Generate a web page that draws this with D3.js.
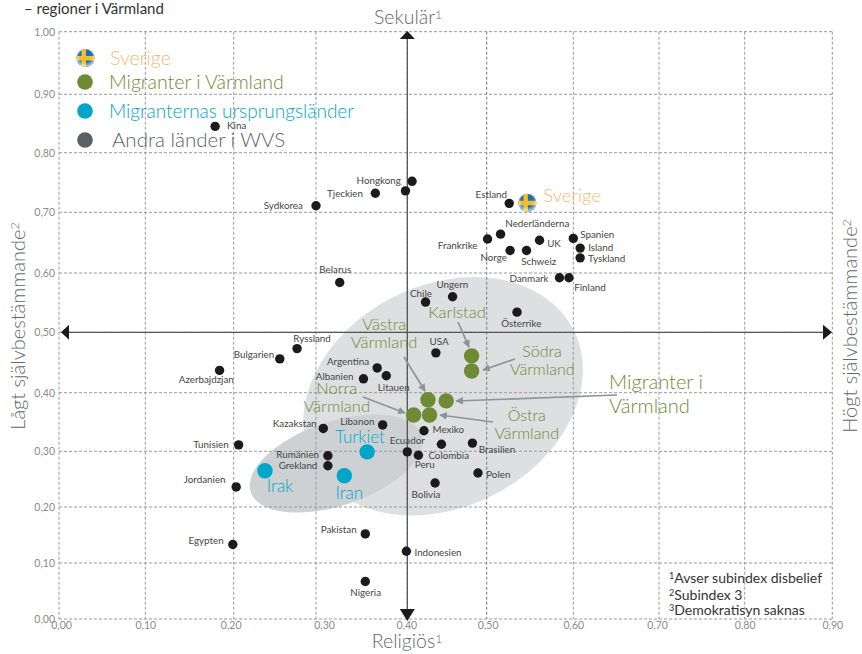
<!DOCTYPE html>
<html>
<head>
<meta charset="utf-8">
<script src="https://cdnjs.cloudflare.com/ajax/libs/d3/7.8.5/d3.min.js"></script>
<style>
body { margin: 0; background: #fff; }
svg { display: block; font-family: Lato, sans-serif; }
</style>
</head>
<body>
<svg width="862" height="654"></svg>
<script>
// grid values
var xTicks = [0, 0.1, 0.2, 0.3, 0.4, 0.5, 0.6, 0.7, 0.8, 0.9];
var yTicks = [0, 0.1, 0.2, 0.3, 0.4, 0.5, 0.6, 0.7, 0.8, 0.9, 1];

// andra länder
var countries = ['Kina', 'Hongkong', '', 'Tjeckien', 'Sydkorea', 'Belarus', 'Chile', 'Estland', 'Nederländerna', 'Frankrike', 'Norge', 'Schweiz', 'UK', 'Spanien', 'Island', 'Tyskland', 'Danmark', 'Finland', 'Ungern', 'Österrike', 'Ryssland', 'Bulgarien', 'Azerbajdzjan', 'Argentina', 'Litauen', 'Albanien', 'Kazakstan', 'Libanon', 'Tunisien', 'Rumänien', 'Grekland', 'Jordanien', 'Ecuador', 'Peru', 'Pakistan', 'Egypten', 'Indonesien', 'Nigeria', 'USA', 'Mexiko', 'Colombia', 'Brasilien', 'Polen', 'Bolivia'];
var religious = [0.179, 0.406, 0.398, 0.365, 0.300, 0.326, 0.423, 0.526, 0.516, 0.501, 0.527, 0.546, 0.561, 0.600, 0.608, 0.608, 0.584, 0.595, 0.457, 0.535, 0.277, 0.256, 0.184, 0.367, 0.377, 0.352, 0.308, 0.373, 0.206, 0.313, 0.313, 0.203, 0.400, 0.414, 0.354, 0.199, 0.399, 0.354, 0.436, 0.421, 0.443, 0.482, 0.489, 0.435];
var selfExpr = [0.845, 0.752, 0.736, 0.732, 0.711, 0.584, 0.551, 0.715, 0.664, 0.656, 0.637, 0.637, 0.654, 0.657, 0.641, 0.625, 0.592, 0.592, 0.560, 0.534, 0.473, 0.456, 0.437, 0.441, 0.428, 0.423, 0.339, 0.345, 0.311, 0.292, 0.274, 0.236, 0.299, 0.293, 0.152, 0.133, 0.121, 0.067, 0.466, 0.335, 0.312, 0.314, 0.261, 0.243];

// migranter i Värmland
var migrantNames = ['Karlstad', 'Södra Värmland', 'Migranter i Värmland', 'Västra Värmland', 'Norra Värmland', 'Östra Värmland'];
var migrantX = [0.481, 0.481, 0.449, 0.426, 0.408, 0.428];
var migrantY = [0.461, 0.436, 0.386, 0.388, 0.362, 0.362];

// ursprungsländer
var originNames = ['Irak', 'Iran', 'Turkiet'];
var originX = [0.238, 0.331, 0.356];
var originY = [0.265, 0.256, 0.299];

var swedenX = 0.547, swedenY = 0.716;

// the printed grid is not evenly spaced, so the scales are piecewise
var xScale = d3.scaleLinear().domain(xTicks)
    .range([59, 145.3, 233.7, 316, 407.3, 486.7, 573.3, 659, 744.7, 832.3]);
var yScale = d3.scaleLinear().domain(yTicks)
    .range([619, 563, 507, 451.3, 392.7, 332.3, 273, 212.3, 152.7, 94.3, 31.7]);

var svg = d3.select('svg');
var defs = svg.append('defs');
var num = d3.format('.2f');
var comma = d => num(d).replace('.', ',');

var green = '#6f8a35', blue = '#00a5c9', orange = '#f1b977', grey = '#5b6064', text = '#454545';

// ellipses behind the points
var ellipses = [
    {cx: 0.445, cy: 0.394, rx: 146.5, ry: 111, rot: -27, fill: '#dddfe1'},
    {cx: 0.322, cy: 0.278, rx: 90, ry: 42, rot: -18.5, fill: '#cdd1d4'}
];
svg.selectAll('ellipse.area').data(ellipses).enter().append('ellipse')
    .attr('class', 'area')
    .attr('rx', d => d.rx).attr('ry', d => d.ry)
    .attr('transform', d => 'translate(' + [xScale(d.cx), yScale(d.cy)] + ') rotate(' + d.rot + ')')
    .attr('fill', d => d.fill);

// grid
svg.append('g').selectAll('line').data(xTicks).enter().append('line')
    .attr('x1', d => xScale(d)).attr('x2', d => xScale(d))
    .attr('y1', yScale(1)).attr('y2', yScale(0))
    .attr('stroke', d => d === 0.5 ? '#777' : '#999')
    .attr('stroke-dasharray', '3 2');
svg.append('g').selectAll('line').data(yTicks).enter().append('line')
    .attr('x1', xScale(0)).attr('x2', xScale(0.9))
    .attr('y1', d => yScale(d)).attr('y2', d => yScale(d))
    .attr('stroke', '#999')
    .attr('stroke-dasharray', '3 2');

// axes, only the labels are used
var xAxis = d3.axisBottom(xScale).tickValues(xTicks).tickFormat(comma).tickSize(0).tickPadding(3);
var yAxis = d3.axisLeft(yScale).tickValues(yTicks).tickFormat(comma).tickSize(0).tickPadding(4);
var xg = svg.append('g').attr('transform', 'translate(0,' + yScale(0) + ')').call(xAxis);
var yg = svg.append('g').attr('transform', 'translate(' + xScale(0) + ',0)').call(yAxis);
xg.select('.domain').remove();
yg.select('.domain').remove();
svg.selectAll('.tick text').attr('fill', '#8a8a8a').style('font-size', '10.5px').style('font-family', 'Lato, sans-serif');
var xNudge = {0: 2, 0.2: -3, 0.3: 8, 0.4: -1, 0.5: 1, 0.7: -2};
xg.selectAll('.tick text').attr('dx', d => xNudge[d] || 0);

// crossing axes with arrow heads
var axisColor = '#555';
var cx = xScale(0.4), cy = yScale(0.5);
svg.append('line').attr('x1', cx).attr('x2', cx).attr('y1', 36).attr('y2', 612).attr('stroke', axisColor).attr('stroke-width', 1.3);
svg.append('line').attr('x1', 66).attr('x2', 826).attr('y1', cy).attr('y2', cy).attr('stroke', axisColor).attr('stroke-width', 1.3);
var heads = [
    [cx, 31, cx - 7.5, 39, cx + 7.5, 39],
    [cx, 621, cx - 7.5, 609, cx + 7.5, 609],
    [61, cy, 69, cy - 7.5, 69, cy + 7.5],
    [832, cy, 823, cy - 7.5, 823, cy + 7.5]
];
svg.selectAll('polygon.head').data(heads).enter().append('polygon')
    .attr('class', 'head')
    .attr('points', d => d.join(' '))
    .attr('fill', '#1d1a1b');

// country points
var labelPos = {
    'Kina': [236.7, 126], 'Hongkong': [378.7, 180.3], 'Tjeckien': [345, 193.3], 'Sydkorea': [283.3, 206],
    'Belarus': [335.3, 270], 'Chile': [421, 293.5], 'Estland': [491.3, 194.3], 'Nederländerna': [537.3, 224],
    'Frankrike': [457.7, 245.3], 'Norge': [493.7, 257.3], 'Schweiz': [538.7, 261.3], 'UK': [554, 243.3],
    'Spanien': [597.3, 234.3], 'Island': [600.7, 248], 'Tyskland': [606.7, 258.3], 'Danmark': [529, 278.3],
    'Finland': [590, 287.3], 'Ungern': [452.3, 284.7], 'Österrike': [521.3, 324], 'Ryssland': [312, 338.3],
    'Bulgarien': [254, 354.3], 'Azerbajdzjan': [206.3, 379.3], 'Argentina': [348, 361.3], 'Albanien': [334.7, 376.3],
    'Litauen': [393.7, 387.3], 'Kazakstan': [294.7, 423.3], 'Libanon': [357.3, 421.7], 'Tunisien': [211, 445],
    'Rumänien': [297.7, 454.3], 'Grekland': [298, 465.3], 'Jordanien': [204.7, 479.3], 'Ecuador': [407.3, 440.3],
    'Peru': [424.7, 465], 'Pakistan': [338.7, 529.3], 'Egypten': [206, 540.3], 'Indonesien': [438, 552.3],
    'Nigeria': [365.7, 592.3], 'USA': [439, 341.3], 'Mexiko': [448.3, 429.3], 'Colombia': [448.7, 455.3],
    'Brasilien': [497, 449.3], 'Polen': [498.3, 474.3], 'Bolivia': [426, 495]
};

svg.append('g').selectAll('circle').data(countries).enter().append('circle')
    .attr('cx', (d, i) => xScale(religious[i]))
    .attr('cy', (d, i) => yScale(selfExpr[i]))
    .attr('r', 4.7)
    .attr('fill', '#1d1a1b');

svg.append('g').selectAll('text').data(countries.filter(d => d)).enter().append('text')
    .attr('x', d => labelPos[d][0])
    .attr('y', d => labelPos[d][1])
    .attr('dy', '.35em')
    .attr('text-anchor', 'middle')
    .attr('fill', text)
    .style('font-size', '9.8px')
    .text(d => d);

// grey annotation arrows
var arrows = [
    [458, 322, 469, 347], [404, 357, 425, 391], [363, 397, 405, 413],
    [515, 359, 483, 370], [617, 395, 456, 401], [493, 422, 440, 415]
];
var arrowColor = '#8b9497';
defs.append('marker').attr('id', 'tip')
    .attr('viewBox', '0 0 10 10').attr('refX', 9).attr('refY', 5)
    .attr('markerWidth', 4.5).attr('markerHeight', 4.5).attr('orient', 'auto')
    .append('path').attr('d', 'M0,0L10,5L0,10Z').attr('fill', arrowColor);
svg.append('g').selectAll('line').data(arrows).enter().append('line')
    .attr('x1', d => d[0]).attr('y1', d => d[1])
    .attr('x2', d => d[2]).attr('y2', d => d[3])
    .attr('stroke', arrowColor).attr('stroke-width', 1.7)
    .attr('marker-end', 'url(#tip)');

// migrants and origin countries
svg.append('g').selectAll('circle').data(migrantNames).enter().append('circle')
    .attr('cx', (d, i) => xScale(migrantX[i]))
    .attr('cy', (d, i) => yScale(migrantY[i]))
    .attr('r', 7.7)
    .attr('fill', green);
svg.append('g').selectAll('circle').data(originNames).enter().append('circle')
    .attr('cx', (d, i) => xScale(originX[i]))
    .attr('cy', (d, i) => yScale(originY[i]))
    .attr('r', 7.7)
    .attr('fill', blue);

// big labels
var bigLabels = [
    ['Karlstad', 457, 312.7, green, 16.5, 'middle'],
    ['Västra', 384.3, 324.7, green, 16.5, 'middle'],
    ['Värmland', 384, 342.7, green, 16.5, 'middle'],
    ['Norra', 336.7, 388.7, green, 16.5, 'middle'],
    ['Värmland', 336.7, 406.7, green, 16.5, 'middle'],
    ['Södra', 542, 351.7, green, 16, 'middle'],
    ['Värmland', 542.3, 369.7, green, 16, 'middle'],
    ['Östra', 526.7, 415.7, green, 16, 'middle'],
    ['Värmland', 526.7, 433.7, green, 16, 'middle'],
    ['Migranter i', 609, 382, green, 20, 'start'],
    ['Värmland', 609, 406, green, 20, 'start'],
    ['Turkiet', 360, 436.7, blue, 17, 'middle'],
    ['Irak', 280, 486, blue, 17, 'middle'],
    ['Iran', 349.3, 493, blue, 17, 'middle'],
    ['Sverige', 543.3, 195.3, orange, 18.5, 'start']
];
svg.append('g').selectAll('text').data(bigLabels).enter().append('text')
    .attr('x', d => d[1]).attr('y', d => d[2])
    .attr('dy', '.35em')
    .attr('text-anchor', d => d[5])
    .attr('fill', d => d[3])
    .style('font-size', d => d[4] + 'px')
    .style('font-weight', 300)
    .text(d => d[0]);

// swedish flag marker
var flagGrad = defs.append('radialGradient').attr('id', 'shine').attr('cx', '50%').attr('cy', '40%').attr('r', '55%');
flagGrad.append('stop').attr('offset', '60%').attr('stop-color', '#fff').attr('stop-opacity', 0);
flagGrad.append('stop').attr('offset', '100%').attr('stop-color', '#fff').attr('stop-opacity', 0.6);
defs.append('clipPath').attr('id', 'flagClip').append('circle').attr('r', 9);

var drawFlag = (x, y) => {
    var g = svg.append('g').attr('transform', 'translate(' + [x, y] + ')').attr('clip-path', 'url(#flagClip)');
    g.append('rect').attr('x', -10).attr('y', -10).attr('width', 20).attr('height', 20).attr('fill', '#1f6fa8');
    g.append('rect').attr('x', -4).attr('y', -10).attr('width', 4.5).attr('height', 20).attr('fill', '#f3bd2b');
    g.append('rect').attr('x', -10).attr('y', -2).attr('width', 20).attr('height', 4.5).attr('fill', '#f3bd2b');
    g.append('circle').attr('r', 9).attr('fill', 'url(#shine)');
};
drawFlag(xScale(swedenX), yScale(swedenY));

// legend
var legendNames = ['Sverige', 'Migranter i Värmland', 'Migranternas ursprungsländer', 'Andra länder i WVS'];
var legendColors = [orange, green, blue, grey];
var legendY = [58, 82, 111, 140];
var legendX = [110, 109, 109, 112];
var legendSize = [19.5, 19.5, 19, 20.5];
drawFlag(85.5, 58);
svg.append('g').selectAll('circle').data(legendNames.slice(1)).enter().append('circle')
    .attr('cx', 85)
    .attr('cy', (d, i) => legendY[i + 1])
    .attr('r', 7.8)
    .attr('fill', (d, i) => legendColors[i + 1]);
svg.append('g').selectAll('text').data(legendNames).enter().append('text')
    .attr('x', (d, i) => legendX[i])
    .attr('y', (d, i) => legendY[i])
    .attr('dy', '.35em')
    .attr('fill', (d, i) => legendColors[i])
    .style('font-size', (d, i) => legendSize[i] + 'px')
    .style('font-weight', 300)
    .text(d => d);

// titles
var sup = (sel, label, mark) => {
    sel.append('tspan').text(label);
    sel.append('tspan').attr('dy', '-.45em').style('font-size', '.62em').text(mark);
};
var titleColor = '#666';
svg.append('text').attr('x', 24).attr('y', 14).attr('fill', '#333').style('font-size', '15px').text('– regioner i Värmland');
svg.append('text').attr('x', 408).attr('y', 24).attr('text-anchor', 'middle').attr('fill', titleColor).style('font-size', '19.5px').style('font-weight', 300).call(sup, 'Sekulär', '1');
svg.append('text').attr('x', 407).attr('y', 648).attr('text-anchor', 'middle').attr('fill', titleColor).style('font-size', '19.5px').style('font-weight', 300).call(sup, 'Religiös', '1');
svg.append('text').attr('transform', 'translate(25,326) rotate(-90)').attr('text-anchor', 'middle').attr('fill', titleColor).style('font-size', '20px').style('font-weight', 300).call(sup, 'Lågt självbestämmande', '2');
svg.append('text').attr('transform', 'translate(857,326) rotate(-90)').attr('text-anchor', 'middle').attr('fill', titleColor).style('font-size', '20px').style('font-weight', 300).call(sup, 'Högt självbestämmande', '2');

// footnotes
var notes = [['1', 'Avser subindex disbelief', 583], ['2', 'Subindex 3', 600], ['3', 'Demokratisyn saknas', 615]];
svg.append('g').selectAll('text').data(notes).enter().append('text')
    .attr('x', 669).attr('y', d => d[2])
    .attr('fill', '#333')
    .style('font-size', '14px')
    .each(function(d) {
        var t = d3.select(this);
        t.append('tspan').attr('dy', '-.4em').style('font-size', '.65em').text(d[0]);
        t.append('tspan').attr('dy', '.26em').text(d[1]);
    });
</script>
</body>
</html>
